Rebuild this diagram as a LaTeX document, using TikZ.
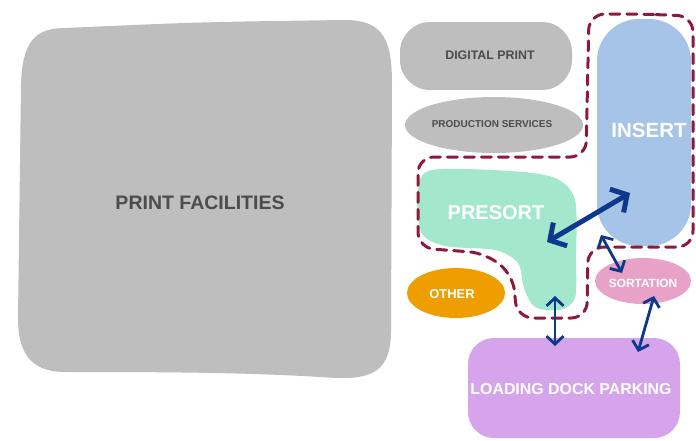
\documentclass[tikz,border=0pt]{standalone}
\usepackage{fontspec}
\setmainfont{Liberation Sans}
\usetikzlibrary{arrows.meta}

\definecolor{pfgrey}{RGB}{190,190,190}
\definecolor{txtgrey}{RGB}{76,76,76}
\definecolor{insblue}{RGB}{166,196,232}
\definecolor{presgreen}{RGB}{163,232,205}
\definecolor{othorange}{RGB}{238,158,0}
\definecolor{sorpink}{RGB}{232,162,200}
\definecolor{dockviolet}{RGB}{213,164,234}
\definecolor{fencered}{RGB}{140,26,62}
\definecolor{linkblue}{RGB}{14,56,140}

\begin{document}
\begin{tikzpicture}[x=1pt,y=-1pt]
      \tikzstyle{tag}=[font=\bfseries, text=white, inner sep=0pt];
      \tikzstyle{greytag}=[tag, text=txtgrey];
      \tikzstyle{fence}=[draw=fencered, line width=3pt, dash pattern=on 10pt off 7pt,
        line cap=round, rounded corners=16pt];
      \tikzstyle{flow}=[draw=linkblue, line width=2.8pt, line cap=round,
        {Straight Barb[length=8pt,width=17pt]}-{Straight Barb[length=8pt,width=17pt]}];
      \tikzstyle{bigflow}=[flow, line width=5pt,
        {Straight Barb[length=12pt,width=27pt]}-{Straight Barb[length=12pt,width=27pt]}];
      \useasboundingbox (0,0) rectangle (696,440);
      % areas
      \fill[pfgrey] (65,28) .. controls (200,22) .. (345,20)
        .. controls (385,20) and (392,42) .. (392,85) -- (391,330)
        .. controls (391,372) and (372,379) .. (335,378)
        .. controls (250,372) and (150,372) .. (65,372)
        .. controls (30,372) and (18,352) .. (18,318) -- (21,85)
        .. controls (22,42) and (35,28) .. (65,28) -- cycle;
      \fill[pfgrey, rounded corners=30pt] (400,22) rectangle (572,90);
      \fill[pfgrey] (494,125) ellipse [x radius=89, y radius=28];
      \fill[insblue, rounded corners=42pt] (597,19) rectangle (691,246);
      \fill[presgreen] plot[smooth cycle, tension=0.5] coordinates {(432,170) (510,171)
        (555,178) (575,200) (576,260) (575,298) (560,310) (535,307) (524,288)
        (518,263) (495,250) (445,246) (421,232) (418,190)};
      \fill[othorange] (456,293) ellipse [x radius=49, y radius=25];
      \fill[sorpink] (643,281) ellipse [x radius=48, y radius=23];
      \fill[dockviolet, rounded corners=26pt] (468,338) rectangle (680,438);
      % names
      \node[greytag, font=\bfseries\fontsize{19.5}{20}\selectfont] (pf) at (200,203) {PRINT FACILITIES};
      \node[greytag, font=\bfseries\fontsize{12.4}{13}\selectfont] (dp) at (490,55) {DIGITAL PRINT};
      \node[greytag, font=\bfseries\fontsize{10}{11}\selectfont] (ps) at (492,124) {PRODUCTION SERVICES};
      \node[tag, font=\bfseries\fontsize{20.5}{21}\selectfont] (ins) at (649,130) {INSERT};
      \node[tag, font=\bfseries\fontsize{20}{21}\selectfont] (pre) at (496,213) {PRESORT};
      \node[tag, font=\bfseries\fontsize{12.9}{13}\selectfont] (oth) at (452,294) {OTHER};
      \node[tag, font=\bfseries\fontsize{11.9}{12}\selectfont] (sor) at (643,283) {SORTATION};
      \node[tag, font=\bfseries\fontsize{15.9}{16}\selectfont] (dock) at (571,389) {LOADING DOCK PARKING};
      % dashed boundary around insert and presort
      \draw[fence] (640,14) -- (693,16) -- (693,247) -- (588,247) -- (587,318)
        -- (517,318) -- (513,275) -- (485,253) -- (418,248) -- (418,157)
        -- (586,157) -- (589,14) -- cycle;
      % flows
      \coordinate (pre-a) at (547,242);
      \coordinate (ins-a) at (630,193);
      \coordinate (ins-b) at (601,235);
      \coordinate (sor-b) at (622,273);
      \coordinate (pre-c) at (555,296);
      \coordinate (dock-c) at (555,346);
      \coordinate (sor-d) at (654,296);
      \coordinate (dock-d) at (638,352);
      \draw[bigflow] (pre-a) -- (ins-a);
      \draw[flow] (ins-b) -- (sor-b);
      \draw[flow] (pre-c) -- (dock-c);
      \draw[flow] (sor-d) -- (dock-d);
\end{tikzpicture}
\end{document}
